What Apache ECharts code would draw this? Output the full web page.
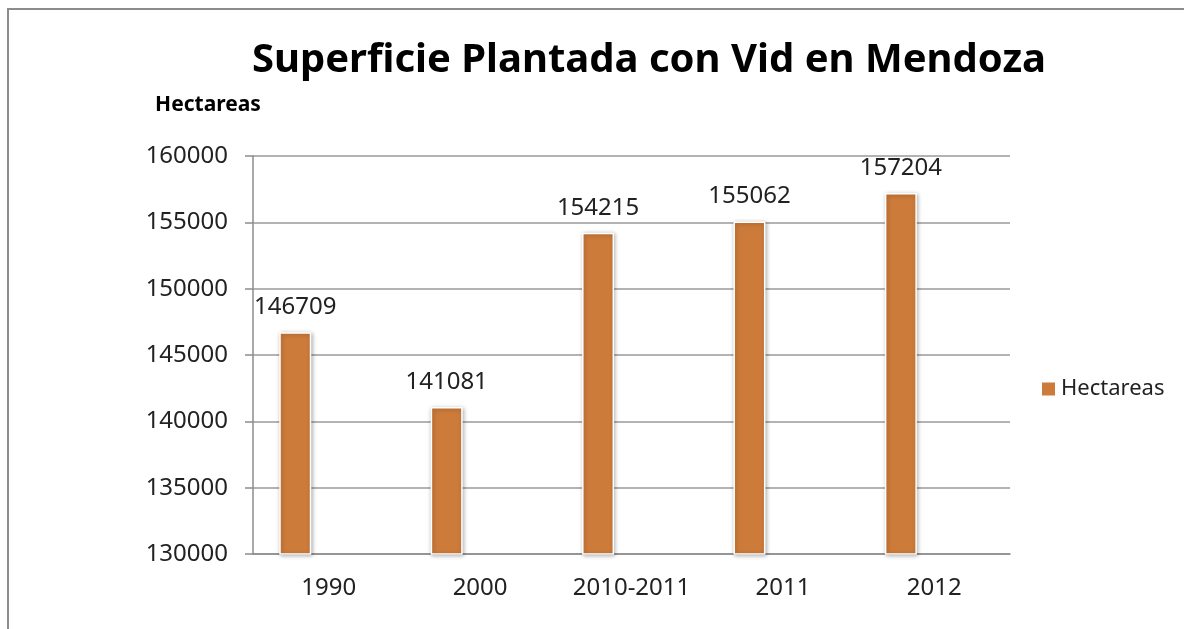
<!DOCTYPE html>
<html>
<head>
<meta charset="utf-8">
<title>Superficie Plantada con Vid en Mendoza</title>
<script src="https://cdn.jsdelivr.net/npm/echarts@6/dist/echarts.min.js"></script>
<style>
  html, body { margin: 0; padding: 0; background: #fff; }
  #chart { width: 1184px; height: 629px; }
</style>
</head>
<body>
<div id="chart"></div>
<script>
// datos
const categories = ['1990', '2000', '2010-2011', '2011', '2012'];
const hectareas = [146709, 141081, 154215, 155062, 157204];
const yMin = 130000;
const yMax = 160000;
const yStep = 5000;

const chart = echarts.init(document.getElementById('chart'));
const font = 'Noto Sans';

chart.setOption({
  animation: false,
  backgroundColor: '#fff',
  textStyle: { fontFamily: font },
  graphic: [{
    // marco del gráfico
    type: 'rect',
    shape: { x: 8, y: 9, width: 1300, height: 700 },
    style: { fill: 'none', stroke: '#8c8c8c', lineWidth: 2 },
    silent: true
  }],
  title: {
    text: 'Superficie Plantada con Vid en Mendoza',
    left: 644,
    textAlign: 'center',
    top: 36,
    textStyle: { fontFamily: font, fontWeight: 'bold', fontSize: 40, color: '#000' }
  },
  legend: {
    data: ['Hectareas'],
    left: 1035,
    top: 373,
    icon: 'rect',
    itemWidth: 15,
    itemHeight: 15,
    itemGap: 0,
    textStyle: { fontFamily: font, fontSize: 22, color: '#222' }
  },
  grid: { left: 253, right: 174, top: 156, bottom: 75 },
  xAxis: {
    type: 'category',
    data: categories,
    axisTick: { show: false },
    axisLine: { lineStyle: { color: '#8c8c8c', width: 1.5 } },
    axisLabel: { fontFamily: font, fontSize: 24, color: '#222', margin: 22, interval: 0 }
  },
  yAxis: {
    type: 'value',
    min: yMin,
    max: yMax,
    interval: yStep,
    name: 'Hectareas',
    nameLocation: 'end',
    nameGap: 40,
    nameTextStyle: {
      fontFamily: font, fontWeight: 'bold', fontSize: 21, color: '#000',
      align: 'center', padding: [0, 90, 0, 0]
    },
    axisLine: { show: true, lineStyle: { color: '#8c8c8c', width: 1.5 } },
    axisTick: { show: true, length: 8, lineStyle: { color: '#8c8c8c', width: 1.5 } },
    splitLine: { lineStyle: { color: '#9a9a9a', width: 1.5 } },
    axisLabel: {
      fontFamily: font, fontSize: 24, color: '#222', margin: 25,
      formatter: v => String(v)
    }
  },
  series: [
    {
      name: 'Hectareas',
      type: 'bar',
      data: hectareas,
      barWidth: 32,
      barGap: '109%',
      itemStyle: {
        color: '#CD7B3A',
        borderColor: '#fff',
        borderWidth: 1.5,
        shadowBlur: 4,
        shadowColor: 'rgba(0,0,0,0.3)',
        shadowOffsetX: 1,
        shadowOffsetY: 1
      },
      label: {
        show: true,
        position: 'top',
        distance: 13,
        fontFamily: font,
        fontSize: 24,
        color: '#222'
      }
    },
    {
      // serie vacía: reserva el hueco a la derecha de cada barra
      name: 'vacio',
      type: 'bar',
      data: [],
      barWidth: 32,
      barGap: '109%'
    }
  ]
});
</script>
</body>
</html>
